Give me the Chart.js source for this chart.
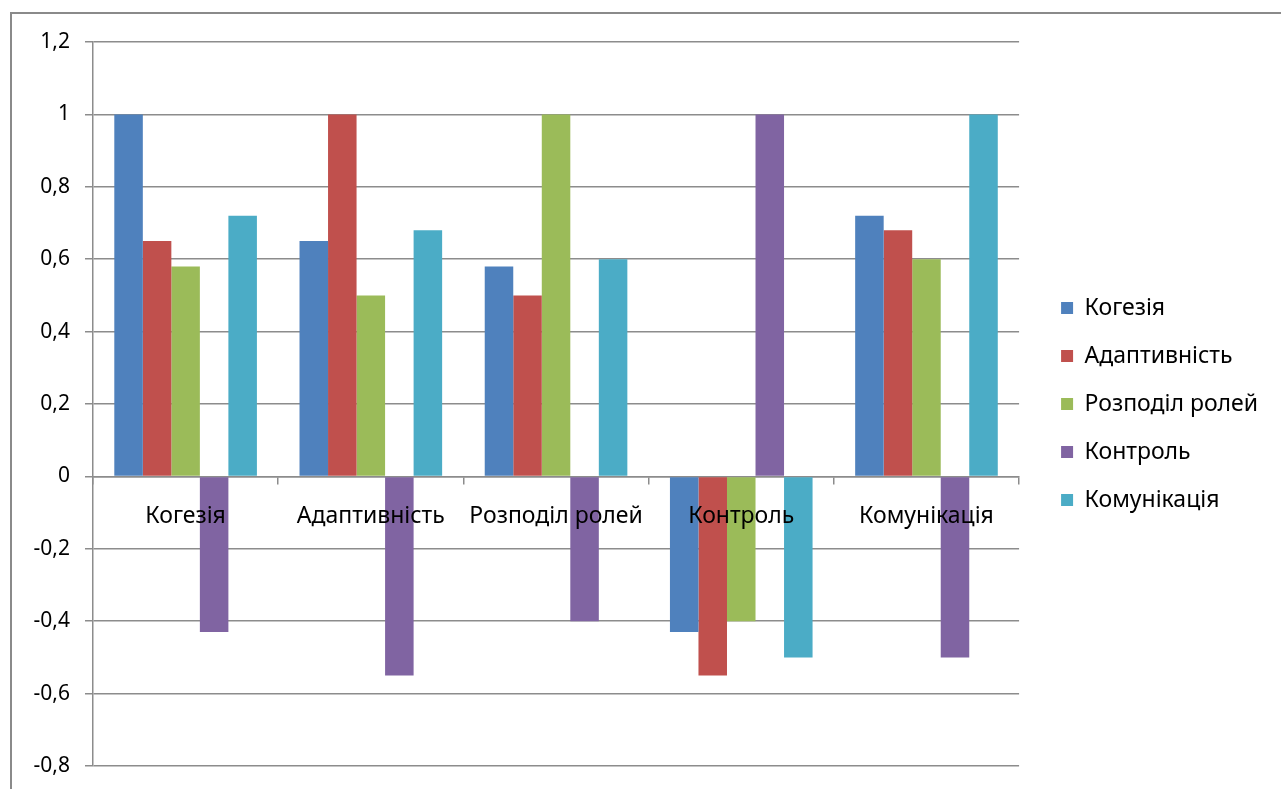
<!DOCTYPE html>
<html lang="uk">
  <head>
    <meta charset="UTF-8" />
    <title>Кореляції</title>
    <script src="https://cdn.jsdelivr.net/npm/chart.js@4"></script>
    <style>
      body {
        margin: 0;
        background: #fff;
      }
      #wrap {
        position: relative;
        width: 1281px;
        height: 789px;
      }
      #frame {
        position: absolute;
        left: 10px;
        top: 12px;
        right: -4px;
        bottom: -4px;
        border-left: 2px solid #8a8a8a;
        border-top: 2px solid #8a8a8a;
        pointer-events: none;
      }
    </style>
  </head>
  <body>
    <div id="wrap">
      <canvas id="myChart"></canvas>
      <div id="frame"></div>
    </div>
    <script>
      const categories = ["Когезія", "Адаптивність", "Розподіл ролей", "Контроль", "Комунікація"];

      // one series per scale, values read per category
      const kohezia = [1, 0.65, 0.58, -0.43, 0.72];
      const adaptyvnist = [0.65, 1, 0.5, -0.55, 0.68];
      const rozpodil = [0.58, 0.5, 1, -0.4, 0.6];
      const kontrol = [-0.43, -0.55, -0.4, 1, -0.5];
      const komunikatsiia = [0.72, 0.68, 0.6, -0.5, 1];

      const yMin = -0.8;
      const yMax = 1.2;
      const yStep = 0.2;

      const font = "'Noto Sans', 'Open Sans', sans-serif";
      const gridColor = "#8c8c8c";

      // push the legend a bit further from the plot, like Excel does
      const legendShift = {
        id: "legendShift",
        afterLayout(chart) {
          chart.legend.left += 17;
          chart.legend.right += 17;
        }
      };

      const ctx = document.getElementById("myChart").getContext("2d");
      const chart = new Chart(ctx, {
        type: "bar",
        data: {
          labels: categories,
          datasets: [
            { label: "Когезія", data: kohezia, backgroundColor: "#4F81BD" },
            { label: "Адаптивність", data: adaptyvnist, backgroundColor: "#C0504D" },
            { label: "Розподіл ролей", data: rozpodil, backgroundColor: "#9BBB59" },
            { label: "Контроль", data: kontrol, backgroundColor: "#8064A2" },
            { label: "Комунікація", data: komunikatsiia, backgroundColor: "#4BACC6" }
          ]
        },
        plugins: [legendShift],
        options: {
          responsive: true,
          maintainAspectRatio: false,
          animation: false,
          datasets: {
            bar: { barPercentage: 1, categoryPercentage: 0.77 }
          },
          layout: {
            padding: { left: 0, top: 42, right: 30, bottom: 23 }
          },
          plugins: {
            tooltip: { enabled: false },
            legend: {
              position: "right",
              labels: {
                boxWidth: 12,
                boxHeight: 12,
                padding: 25,
                color: "#000",
                font: { family: font, size: 23 }
              }
            }
          },
          scales: {
            x: {
              position: { y: 0 },
              grid: {
                offset: true,
                drawOnChartArea: false,
                drawTicks: true,
                tickLength: 7,
                color: gridColor,
                lineWidth: 1.5
              },
              border: { display: true, color: gridColor, width: 1.5 },
              ticks: {
                z: 1,
                padding: 19,
                color: "#000",
                maxRotation: 0,
                autoSkip: false,
                font: { family: font, size: 23 }
              }
            },
            y: {
              min: yMin,
              max: yMax,
              afterFit: (scale) => {
                scale.width = 93;
                scale.paddingTop = 0;
                scale.paddingBottom = 0;
              },
              grid: {
                color: gridColor,
                lineWidth: 1.5,
                tickLength: 8
              },
              border: { display: true, color: gridColor, width: 1.5 },
              ticks: {
                stepSize: yStep,
                padding: 15,
                color: "#000",
                font: { family: font, size: 21 },
                callback: (v) => (Math.round(v * 10) / 10).toString().replace(".", ",")
              }
            }
          }
        }
      });
    </script>
  </body>
</html>
